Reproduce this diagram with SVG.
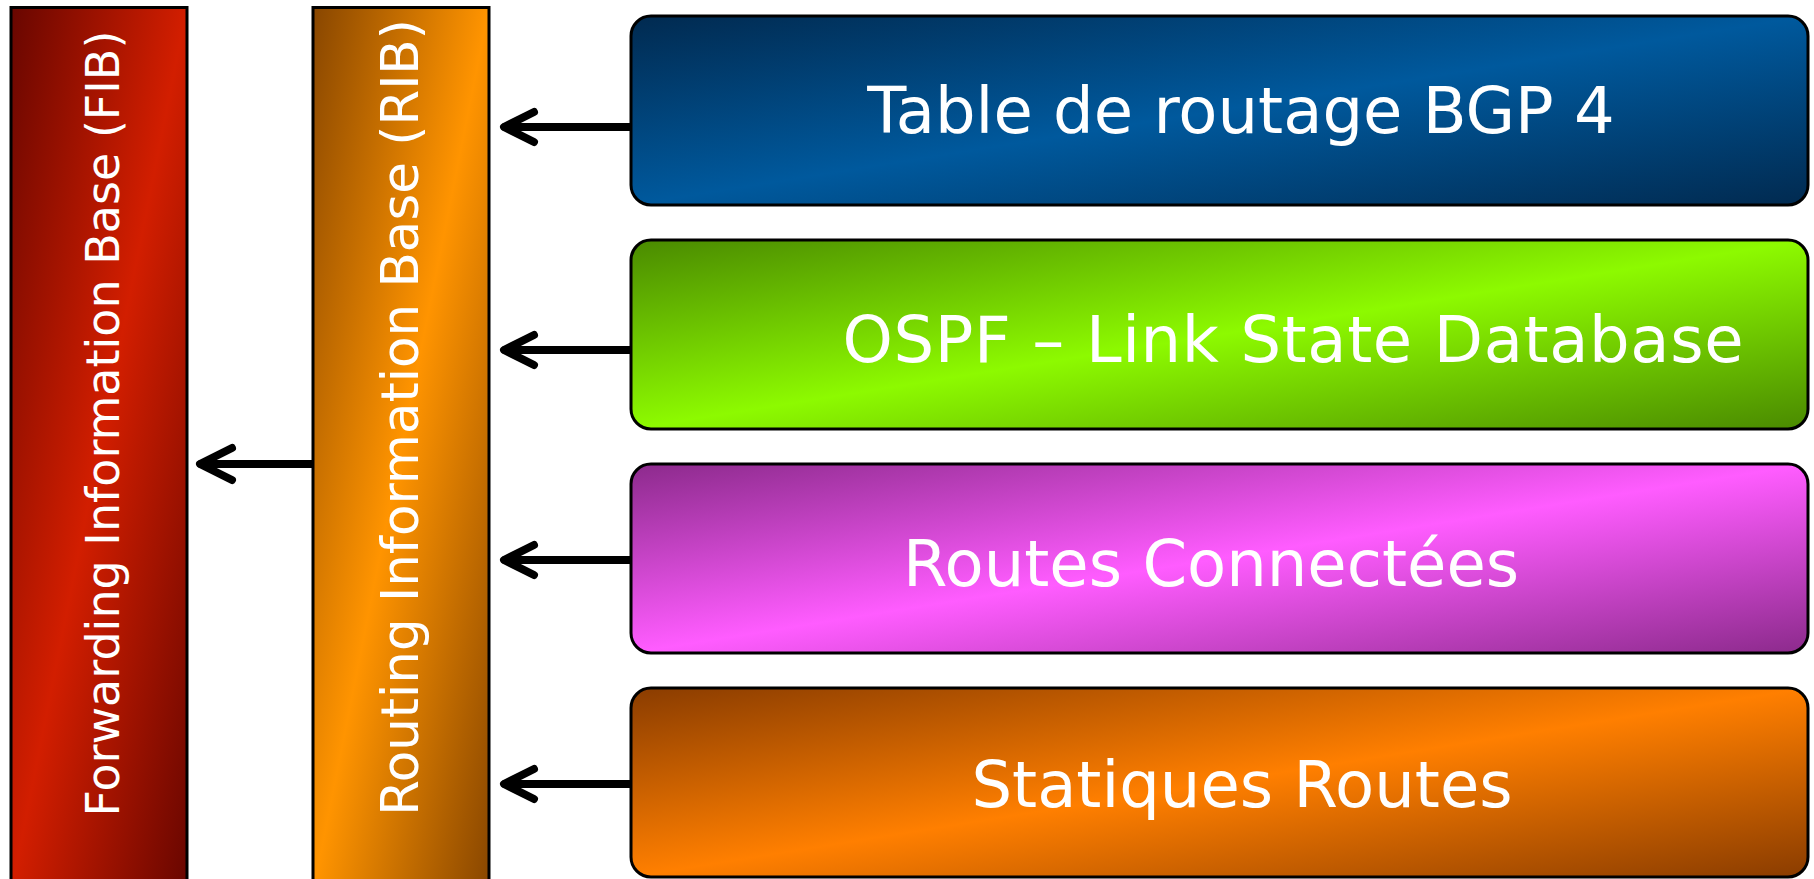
<svg xmlns="http://www.w3.org/2000/svg" width="1814" height="879" viewBox="0 0 1814 879">
<style>
.box{stroke:#000;stroke-width:3}
.lbl{font-family:"DejaVu Sans","Verdana",sans-serif;fill:#fff}
.big{font-size:64px;text-anchor:middle}
.conn line,.conn polyline{stroke:#000;stroke-width:8;stroke-linecap:round;stroke-linejoin:round;fill:none}
</style>
<defs>
<linearGradient id="gFib" x1="0" y1="0" x2="1" y2="1"><stop offset="0" stop-color="#680600"/><stop offset="0.5" stop-color="#d21e00"/><stop offset="1" stop-color="#680600"/></linearGradient>
<linearGradient id="gRib" x1="0" y1="0" x2="1" y2="1"><stop offset="0" stop-color="#884600"/><stop offset="0.5" stop-color="#ff9400"/><stop offset="1" stop-color="#884600"/></linearGradient>
<linearGradient id="gBlue" x1="0" y1="0" x2="1" y2="1"><stop offset="0" stop-color="#012a50"/><stop offset="0.5" stop-color="#00599d"/><stop offset="1" stop-color="#012a50"/></linearGradient>
<linearGradient id="gGreen" x1="0" y1="0" x2="1" y2="1"><stop offset="0" stop-color="#4a8a00"/><stop offset="0.5" stop-color="#8dfa00"/><stop offset="1" stop-color="#4a8a00"/></linearGradient>
<linearGradient id="gPink" x1="0" y1="0" x2="1" y2="1"><stop offset="0" stop-color="#8c2a8c"/><stop offset="0.5" stop-color="#ff5cff"/><stop offset="1" stop-color="#8c2a8c"/></linearGradient>
<linearGradient id="gOrange" x1="0" y1="0" x2="1" y2="1"><stop offset="0" stop-color="#8a3c00"/><stop offset="0.5" stop-color="#ff7f00"/><stop offset="1" stop-color="#8a3c00"/></linearGradient>
</defs>
<rect width="1814" height="879" fill="#fff"/>
<g id="conns" class="conn">
<line x1="313" y1="464" x2="201" y2="464"/><polyline points="232,448 200,464 232,480"/>
<line x1="631" y1="127" x2="505" y2="127"/><polyline points="534,112 504,127 534,142"/>
<line x1="631" y1="350" x2="505" y2="350"/><polyline points="534,335 504,350 534,365"/>
<line x1="631" y1="560" x2="505" y2="560"/><polyline points="534,545 504,560 534,575"/>
<line x1="631" y1="784" x2="505" y2="784"/><polyline points="534,769 504,784 534,799"/>
</g>
<g id="fib">
<rect class="box" x="11" y="7.5" width="176" height="885" fill="url(#gFib)"/>
<text class="lbl" transform="translate(119,423.5) rotate(-90)" text-anchor="middle" font-size="46">Forwarding Information Base (FIB)</text>
</g>
<g id="rib">
<rect class="box" x="313" y="7.5" width="176" height="885" fill="url(#gRib)"/>
<text class="lbl" transform="translate(418,417.5) rotate(-90)" text-anchor="middle" font-size="51.5">Routing Information Base (RIB)</text>
</g>
<g id="bgp">
<rect class="box" x="631" y="16" width="1177" height="189" rx="20" fill="url(#gBlue)"/>
<text class="lbl big" x="1241" y="133" font-size="64.5">Table de routage BGP 4</text>
</g>
<g id="ospf">
<rect class="box" x="631" y="240" width="1177" height="189" rx="20" fill="url(#gGreen)"/>
<text class="lbl big" x="1293" y="362" textLength="901" lengthAdjust="spacing">OSPF – Link State Database</text>
</g>
<g id="connected">
<rect class="box" x="631" y="464" width="1177" height="189" rx="20" fill="url(#gPink)"/>
<text class="lbl big" x="1211" y="586">Routes Connectées</text>
</g>
<g id="static">
<rect class="box" x="631" y="688" width="1177" height="189" rx="20" fill="url(#gOrange)"/>
<text class="lbl big" x="1242" y="807">Statiques Routes</text>
</g>
</svg>
